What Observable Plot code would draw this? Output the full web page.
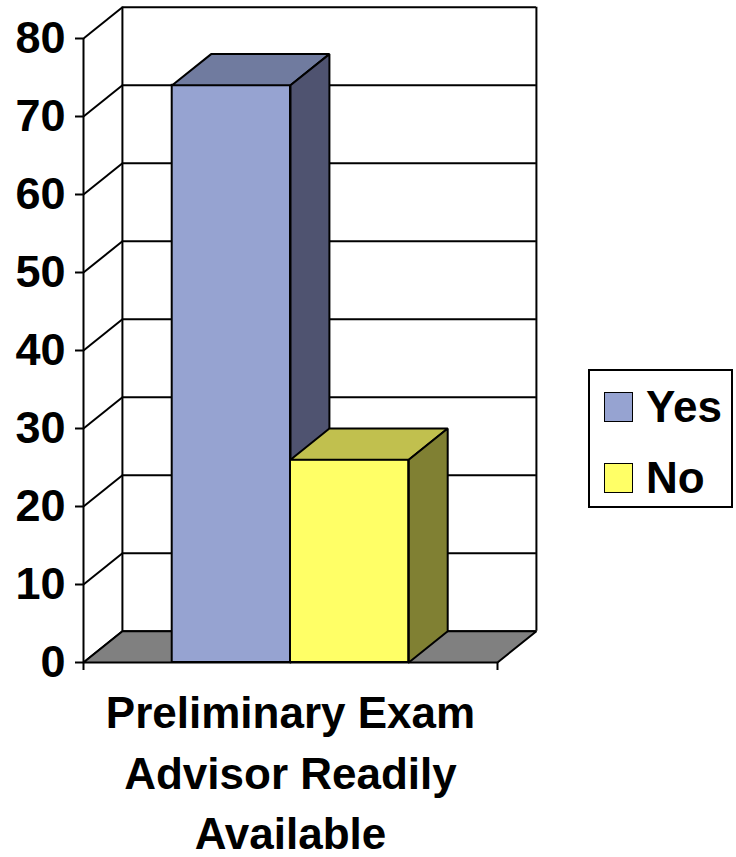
<!DOCTYPE html>
<html>
<head>
<meta charset="utf-8">
<script src="https://cdn.jsdelivr.net/npm/d3@7"></script>
<script src="https://cdn.jsdelivr.net/npm/@observablehq/plot@0.6"></script>
<style>
  html, body { margin: 0; padding: 0; background: #fff; }
  #wrap { position: relative; width: 736px; height: 857px; font-family: "Liberation Sans", Arial, sans-serif; }
  #legend { position: absolute; left: 588px; top: 369px; width: 141px; height: 135px; border: 2px solid #000; background: #fff; }
  .item { position: absolute; left: 14px; display: flex; align-items: center; font-size: 44px; font-weight: bold; color: #000; }
  .sw { width: 27px; height: 28px; border: 1.5px solid #000; margin-right: 13px; }
</style>
</head>
<body>
<div id="wrap"></div>
<script>
// ---- data ----
const series = ["Yes", "No"];
const values = [74, 26];
const frontColors = ["#96A3D1", "#FFFF66"];
const topColors = ["#707B9F", "#C1C04E"];
const sideColors = ["#4F5370", "#808033"];
const floorColor = "#808080";
const yTicks = [0, 10, 20, 30, 40, 50, 60, 70, 80];
const categoryLabel = ["Preliminary Exam", "Advisor Readily", "Available"];

// ---- geometry (style) ----
const depthX = 0.094;  // back-plane offset in x units
const depthY = 4;      // back-plane offset in value units
const yMax = 80;
const n = series.length;
const barW = 1 / (n + 1.5);
const gap = 0.75 * barW;

const bars = series.map((s, i) => {
  const x1 = gap + i * barW, x2 = x1 + barW, v = values[i];
  return {s, i, x1, x2, v};
});

function poly(pts, fill) {
  const closed = pts.concat([pts[0]]).map(([x, y]) => ({x, y}));
  return Plot.line(closed, {x: "x", y: "y", fill, stroke: "black", strokeWidth: 2, strokeLinejoin: "miter"});
}

const marks = [];
// back wall gridlines
marks.push(Plot.ruleY(yTicks, {y: d => d + depthY, x1: () => depthX, x2: () => 1 + depthX, stroke: "black", strokeWidth: 2}));
// back wall verticals
marks.push(Plot.ruleX([depthX, 1 + depthX], {x: d => d, y1: () => depthY, y2: () => yMax + depthY, stroke: "black", strokeWidth: 2}));
// side wall diagonals
marks.push(Plot.link(yTicks, {x1: () => 0, y1: d => d, x2: () => depthX, y2: d => d + depthY, stroke: "black", strokeWidth: 2}));
// floor
marks.push(poly([[0, 0], [1, 0], [1 + depthX, depthY], [depthX, depthY]], floorColor));
// front y-axis line
marks.push(Plot.ruleX([0], {y1: () => 0, y2: () => yMax, stroke: "black", strokeWidth: 2}));
// bars
for (const b of bars) {
  marks.push(Plot.rect([b], {x1: "x1", x2: "x2", y1: () => 0, y2: "v", fill: frontColors[b.i], stroke: "black", strokeWidth: 2}));
  marks.push(poly([[b.x1, b.v], [b.x2, b.v], [b.x2 + depthX, b.v + depthY], [b.x1 + depthX, b.v + depthY]], topColors[b.i]));
  marks.push(poly([[b.x2, 0], [b.x2 + depthX, depthY], [b.x2 + depthX, b.v + depthY], [b.x2, b.v]], sideColors[b.i]));
}
// axes
marks.push(Plot.axisY(yTicks, {anchor: "left", tickSize: 8, tickPadding: 10, strokeWidth: 2, fontSize: 45, fontWeight: "bold", fill: "black"}));
marks.push(Plot.axisX([0, 1], {anchor: "bottom", tickSize: 8, tickFormat: () => "", strokeWidth: 2}));
// category label
marks.push(Plot.text([categoryLabel.join("\n")], {x: () => 0.5, y: () => 0, text: d => d, lineAnchor: "top", dy: 23, lineHeight: 1.37, fontSize: 44, fontWeight: "bold", fill: "black"}));

const chart = Plot.plot({
  width: 736,
  height: 857,
  marginLeft: 83,
  marginRight: 239,
  marginTop: 38,
  marginBottom: 195,
  x: {domain: [0, 1], axis: null},
  y: {domain: [0, yMax], axis: null},
  style: {background: "white", fontFamily: "'Liberation Sans', Arial, sans-serif", overflow: "visible"},
  marks
});
const wrap = document.getElementById("wrap");
wrap.appendChild(chart);

// legend
const legend = document.createElement("div");
legend.id = "legend";
series.forEach((s, i) => {
  const it = document.createElement("div");
  it.className = "item";
  it.style.top = (i === 0 ? 11 : 82) + "px";
  const sw = document.createElement("div");
  sw.className = "sw";
  sw.style.background = frontColors[i];
  const tx = document.createElement("span");
  tx.textContent = s;
  it.appendChild(sw); it.appendChild(tx);
  legend.appendChild(it);
});
wrap.appendChild(legend);
</script>
</body>
</html>
